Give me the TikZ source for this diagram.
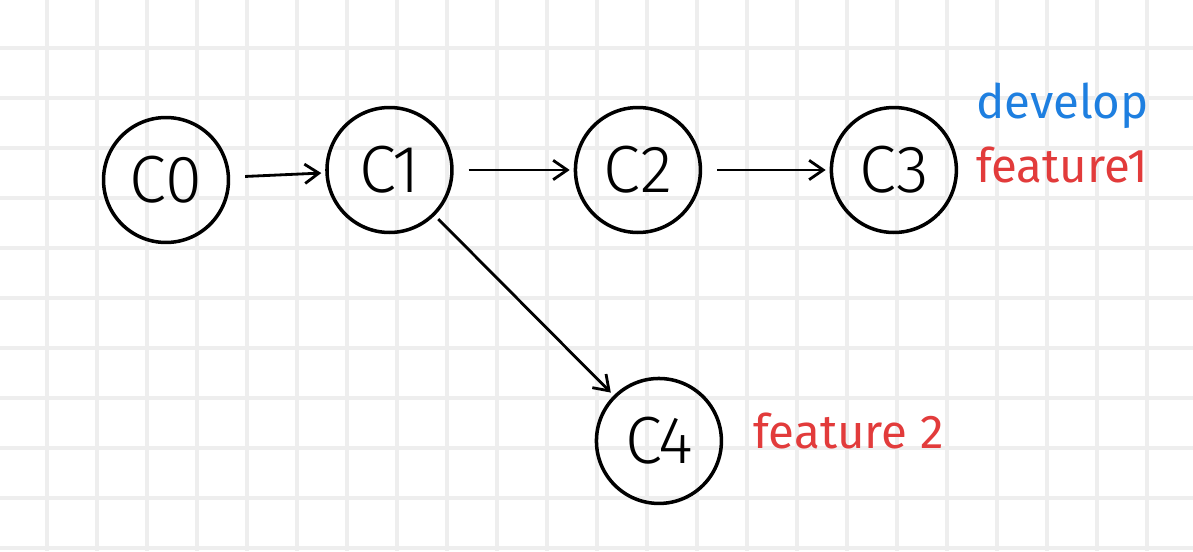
\documentclass[tikz,border=0pt]{standalone}
\usepackage{fontspec}
\setmainfont{Fira Sans}
\usepackage{tikz}
\usetikzlibrary{arrows.meta,positioning}
\definecolor{devblue}{HTML}{1E7FE0}
\definecolor{featred}{HTML}{E23B3B}
\definecolor{gridgray}{HTML}{EEEEEE}

\begin{document}
\begin{tikzpicture}[
    x=0.02cm, y=-0.02cm,
    commit/.style={draw, circle, line width=2pt, minimum size=2.5cm, inner sep=0pt, font=\fontsize{38}{42}\selectfont\light},
    branch/.style={font=\fontsize{27}{30}\selectfont, inner sep=0pt},
    edge/.style={-{Straight Barb[length=8pt,width=11pt]}, line width=1.6pt, shorten <=0.3cm, shorten >=0.08cm},
    gridline/.style={gridgray, line width=2.3pt},
  ]
    \newfontface\light{Fira Sans Light}
    % Paper
    \useasboundingbox (0,0) rectangle (1193,551);
    \fill[white] (0,0) rectangle (1193,551);
    \foreach \gx in {47,97,...,1147} \draw[gridline] (\gx,0) -- (\gx,551);
    \foreach \gy in {48,98,...,548} \draw[gridline] (0,\gy) -- (1193,\gy);

    % Commits
    \node[commit] (c0) at (166,180) {C0};
    \node[commit, right=1.9cm of c0, yshift=0.2cm] (c1) {C1};
    \node[commit, right=2.4cm of c1] (c2) {C2};
    \node[commit, right=2.55cm of c2] (c3) {C3};
    \node[commit, below=2.85cm of c2, xshift=0.42cm] (c4) {C4};

    % History
    \draw[edge] (c0) -- (c1);
    \draw[edge] (c1) -- (c2);
    \draw[edge] (c2) -- (c3);
    \draw[edge, shorten <=0.1cm] (c1) -- (c4);

    % Branch labels
    \node[branch, featred, right=0.35cm of c3, yshift=0.1cm] (feat1) {feature1};
    \node[branch, devblue, above=0.35cm of feat1.north west, anchor=south west] (dev) {develop};
    \node[branch, featred, right=0.6cm of c4, yshift=0.2cm] (feat2) {feature 2};
  \end{tikzpicture}
\end{document}
